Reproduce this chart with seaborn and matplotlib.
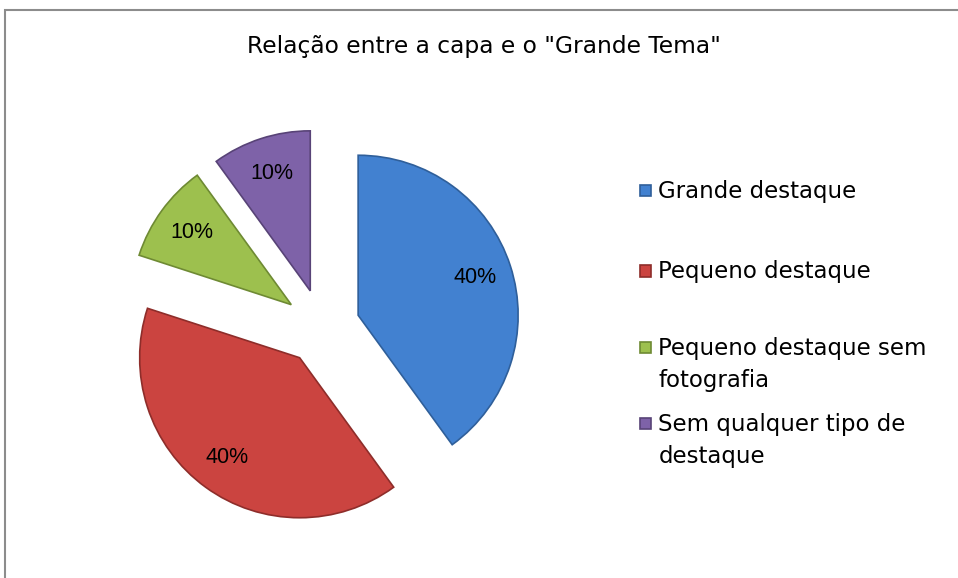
import matplotlib.pyplot as plt
import matplotlib.patches as mpatches
from matplotlib.legend_handler import HandlerPatch
import seaborn as sns

TITLE = 'Relação entre a capa e o "Grande Tema"'
categories = [
    "Grande destaque",
    "Pequeno destaque",
    "Pequeno destaque sem\nfotografia",
    "Sem qualquer tipo de\ndestaque",
]
shares = [40, 40, 10, 10]
colors = ["#4281D0", "#CB4440", "#9DC04E", "#7E62A8"]
edges = ["#2F5F9A", "#8E2D2A", "#6E8A33", "#584377"]

sns.set_theme(style="white")
plt.rcParams["font.family"] = ["DejaVu Sans"]
plt.rcParams["text.color"] = "black"

W, H = 958, 578
fig = plt.figure(figsize=(W / 100, H / 100), dpi=100)
fig.patch.set_facecolor("white")

# pixel-like coordinates, y up
ax = fig.add_axes([0, 0, 1, 1])
radius = 160
center = (322, H - 327)
wedges, texts, autotexts = ax.pie(
    shares,
    colors=colors,
    startangle=90,
    counterclock=False,
    radius=radius,
    center=center,
    explode=[38] * len(shares),
    autopct="%1.0f%%",
    pctdistance=0.77,
    wedgeprops=dict(linewidth=1.2),
    textprops=dict(fontsize=15.5, family="Liberation Sans", color="black"),
)
for w, ec in zip(wedges, edges):
    w.set_edgecolor(ec)
ax.set_xlim(0, W)
ax.set_ylim(0, H)
ax.set_aspect("equal")
ax.axis("off")

fig.text(484 / W, 1 - 47 / H, TITLE, ha="center", va="center", fontsize=16.8)

# outer frame
fig.patches.append(mpatches.Rectangle(
    (4.5 / W, -0.1), 2, 1.1 - 10.5 / H, transform=fig.transFigure,
    fill=False, edgecolor="#8C8C8C", linewidth=1.5,
))


def small_square(legend, orig_handle, xdescent, ydescent, width, height, fontsize):
    # square marker sitting at the bottom of a slightly taller handle box
    return mpatches.Rectangle((-xdescent, -ydescent), width, width)


def add_legend(idx, top_px, spacing):
    leg = fig.legend(
        [wedges[i] for i in idx], [categories[i] for i in idx],
        loc="upper left", bbox_to_anchor=(640 / W, 1 - top_px / H),
        frameon=False, fontsize=16.5, borderpad=0, borderaxespad=0,
        handlelength=0.5, handleheight=0.72, handletextpad=0.3,
        labelspacing=spacing,
        handler_map={mpatches.Wedge: HandlerPatch(patch_func=small_square)},
    )
    for t in leg.get_texts():
        t.set_linespacing(1.5)
    # put the marker next to the first line of multi-line labels
    for col in leg._legend_handle_box.get_children():
        for row in col.get_children():
            row.align = "top"
    return leg


add_legend([0, 1], 180, 2.5)
add_legend([2, 3], 337, 0.9)

fig.savefig("out.png", dpi=100)
